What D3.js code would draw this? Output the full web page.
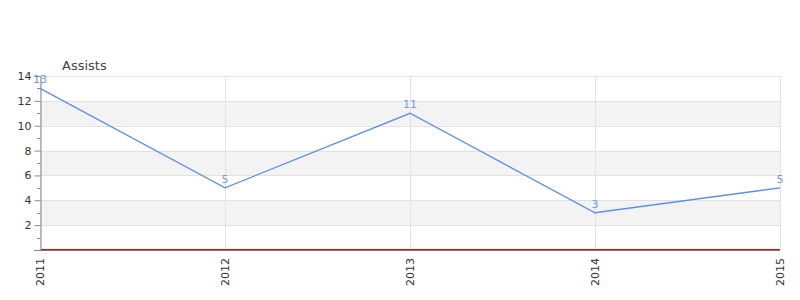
<!DOCTYPE html>
<html lang="en">
<head>
<meta charset="UTF-8"/>
<title>Assists</title>
<script src="https://d3js.org/d3.v7.min.js"></script>
<style>
  body { margin: 0; background: #fff; }
  text { font-family: "DejaVu Sans", sans-serif; }
</style>
</head>
<body>
<script>
    // chart data
    var years = ["2011", "2012", "2013", "2014", "2015"];
    var assists = [13, 5, 11, 3, 5];
    var yTicks = [2, 4, 6, 8, 10, 12, 14];
    var yMinor = [1, 3, 5, 7, 9, 11, 13];

    var w = 800, h = 300;
    var plotLeft = 40, plotRight = 780, plotTop = 76, plotBottom = 250;

    var svg = d3.select("body").append("svg")
        .attr("width", w)
        .attr("height", h);

    var xScale = d3.scalePoint()
        .domain(years)
        .range([plotLeft, plotRight]);

    var yScale = d3.scaleLinear()
        .domain([0, 14])
        .range([plotBottom, plotTop]);

    // alternating bands
    svg.selectAll("rect.band")
        .data([2, 6, 10])
        .enter()
        .append("rect")
        .attr("class", "band")
        .attr("x", plotLeft)
        .attr("width", plotRight - plotLeft)
        .attr("y", function(d) { return yScale(d + 2); })
        .attr("height", function(d) { return yScale(d) - yScale(d + 2); })
        .attr("fill", "#f3f3f3");

    // horizontal grid
    svg.selectAll("line.hgrid")
        .data(yTicks)
        .enter()
        .append("line")
        .attr("x1", plotLeft).attr("x2", plotRight)
        .attr("y1", function(d) { return Math.round(yScale(d)) + 0.5; })
        .attr("y2", function(d) { return Math.round(yScale(d)) + 0.5; })
        .attr("stroke", "#e2e2e2");

    // vertical grid
    svg.selectAll("line.vgrid")
        .data(years)
        .enter()
        .append("line")
        .attr("x1", function(d) { return xScale(d) + 0.5; })
        .attr("x2", function(d) { return xScale(d) + 0.5; })
        .attr("y1", plotTop).attr("y2", plotBottom)
        .attr("stroke", "#e2e2e2");

    // y axis
    var yAxis = d3.axisLeft(yScale)
        .tickValues(yTicks)
        .tickSize(6)
        .tickPadding(3);
    var gy = svg.append("g")
        .attr("transform", "translate(" + (plotLeft + 0.5) + ",0)")
        .call(yAxis);
    gy.select(".domain").attr("stroke", "#888");
    gy.selectAll(".tick line").attr("stroke", "#888");
    gy.selectAll(".tick text")
        .attr("fill", "#333")
        .style("font-size", "11px")
        .style("font-family", "DejaVu Sans, sans-serif");

    // minor ticks
    svg.selectAll("line.minor")
        .data(yMinor.concat([0]))
        .enter()
        .append("line")
        .attr("x1", function(d) { return d === 0 ? plotLeft - 6 : plotLeft - 3; })
        .attr("x2", plotLeft)
        .attr("y1", function(d) { return Math.round(yScale(d)) + 0.5; })
        .attr("y2", function(d) { return Math.round(yScale(d)) + 0.5; })
        .attr("stroke", "#888");

    // x axis line
    svg.append("line")
        .attr("x1", plotLeft).attr("x2", plotRight)
        .attr("y1", plotBottom + 0.5).attr("y2", plotBottom + 0.5)
        .attr("stroke", "#777")
        .attr("stroke-width", 1);
    svg.append("line")
        .attr("x1", plotLeft + 1).attr("x2", plotRight)
        .attr("y1", plotBottom - 0.5).attr("y2", plotBottom - 0.5)
        .attr("stroke", "#e01010")
        .attr("stroke-width", 1);

    // x labels, rotated
    svg.selectAll("text.xlabel")
        .data(years)
        .enter()
        .append("text")
        .attr("class", "xlabel")
        .attr("transform", function(d) {
            return "translate(" + (xScale(d) + 4) + "," + (plotBottom + 8) + ") rotate(-90)";
        })
        .attr("text-anchor", "end")
        .attr("fill", "#333")
        .style("font-size", "11px")
        .text(function(d) { return d; });

    // title
    svg.append("text")
        .attr("x", 62)
        .attr("y", 70)
        .attr("fill", "#444")
        .style("font-size", "13px")
        .text("Assists");

    // line
    var line = d3.line()
        .x(function(d, i) { return xScale(years[i]); })
        .y(function(d) { return yScale(d); });

    svg.append("path")
        .datum(assists)
        .attr("d", line)
        .attr("fill", "none")
        .attr("stroke", "#5b8fe8")
        .attr("stroke-width", 1.3);

    // value labels
    svg.selectAll("text.val")
        .data(assists)
        .enter()
        .append("text")
        .attr("class", "val")
        .attr("x", function(d, i) { return xScale(years[i]); })
        .attr("y", function(d) { return yScale(d) - 5; })
        .attr("text-anchor", "middle")
        .attr("fill", "#6f9be8")
        .style("font-size", "11px")
        .text(function(d) { return d; });
</script>
</body>
</html>
